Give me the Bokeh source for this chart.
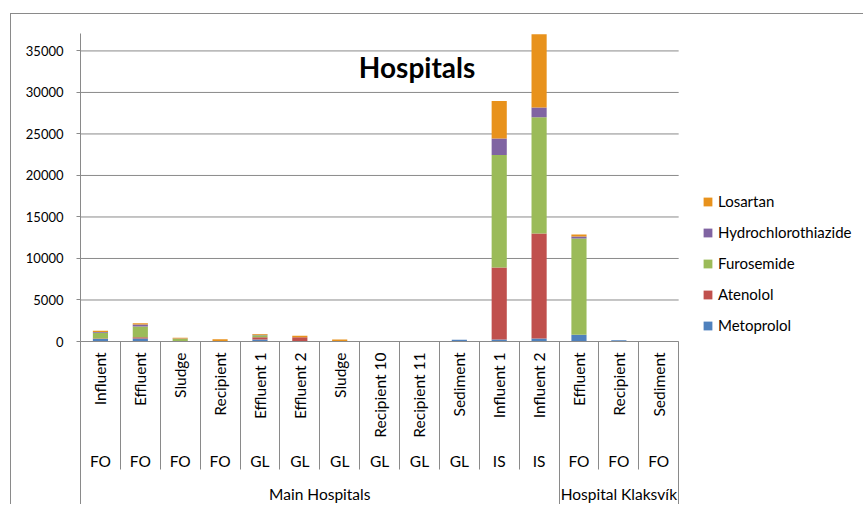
import math
from bokeh.plotting import figure
from bokeh.models import (Range1d, LinearAxis, FixedTicker, Legend, LegendItem,
                          Label, NumeralTickFormatter, ColumnDataSource)
from bokeh.embed import file_html
from bokeh.resources import INLINE

# ---------------- data ----------------
categories = ["Influent", "Effluent", "Sludge", "Recipient", "Effluent 1", "Effluent 2", "Sludge",
              "Recipient 10", "Recipient 11", "Sediment", "Influent 1", "Influent 2",
              "Effluent", "Recipient", "Sediment"]
sites = ["FO", "FO", "FO", "FO", "GL", "GL", "GL", "GL", "GL", "GL", "IS", "IS", "FO", "FO", "FO"]
group_names = ["Main Hospitals", "Hospital Klaksvík"]
group_sizes = [12, 3]

series = ["Metoprolol", "Atenolol", "Furosemide", "Hydrochlorothiazide", "Losartan"]
metoprolol = [300, 350, 30, 30, 250, 0, 0, 0, 0, 200, 250, 350, 800, 150, 0]
atenolol = [50, 150, 0, 0, 250, 500, 0, 0, 0, 0, 8650, 12650, 0, 0, 0]
furosemide = [700, 1300, 300, 0, 250, 0, 50, 0, 0, 0, 13560, 14000, 11600, 0, 0]
hydrochlorothiazide = [100, 250, 30, 0, 50, 0, 0, 0, 0, 0, 2000, 1200, 250, 0, 0]
losartan = [150, 150, 80, 250, 100, 200, 200, 0, 0, 0, 4500, 8800, 250, 0, 0]
colors = ["#4F81BD", "#C0504D", "#9BBB59", "#8064A2", "#E8921C"]
y_ticks = [0, 5000, 10000, 15000, 20000, 25000, 30000, 35000]

FONT = "Lato"
GRAY = "#8a8a8a"
FS = "15.5px"

n = len(categories)
centers = [i + 0.5 for i in range(n)]          # category slot centres on the index scale
bounds = [0]
for s in group_sizes:
    bounds.append(bounds[-1] + s)
gcenters = [(a + b) / 2 for a, b in zip(bounds[:-1], bounds[1:])]

source = ColumnDataSource(dict(x=centers, Metoprolol=metoprolol, Atenolol=atenolol,
                               Furosemide=furosemide, Hydrochlorothiazide=hydrochlorothiazide,
                               Losartan=losartan))

# the frame runs on to the right edge so that the legend sits inside it
p = figure(x_range=Range1d(0, 19.61), y_range=Range1d(0, 37100),
           width=853, height=491, output_backend="svg", toolbar_location=None,
           min_border_left=69, min_border_right=2, min_border_top=19, min_border_bottom=163)
p.margin = (13, 0, 0, 10)
p.styles = {"border-left": f"1px solid {GRAY}", "border-top": f"1px solid {GRAY}"}
p.outline_line_color = None
p.background_fill_color = "white"
p.border_fill_color = "white"
p.xgrid.grid_line_color = None
p.ygrid.grid_line_color = None

# horizontal gridlines across the category area only
p.segment(x0=0, x1=n, y0=y_ticks, y1=y_ticks, line_color=GRAY, line_width=1)

rends = p.vbar_stack(series, x="x", width=0.38, color=colors, source=source, line_color=None)

# y axis
yt = FixedTicker(ticks=y_ticks)
p.yaxis.ticker = yt
p.yaxis.formatter = NumeralTickFormatter(format="0")
p.yaxis.major_label_text_font = FONT
p.yaxis.major_label_text_font_size = "13px"
p.yaxis.major_label_text_color = "#000000"
p.yaxis.axis_line_color = GRAY
p.yaxis.major_tick_line_color = GRAY
p.yaxis.major_tick_out = 4
p.yaxis.major_tick_in = 0
p.yaxis.minor_tick_line_color = None
p.yaxis.major_label_standoff = 13


def plain(axis, size=FS):
    axis.axis_line_color = None
    axis.major_tick_line_color = None
    axis.major_tick_out = 0
    axis.major_tick_in = 0
    axis.minor_tick_out = 0
    axis.minor_tick_in = 0
    axis.minor_tick_line_color = None
    axis.major_label_text_font = FONT
    axis.major_label_text_font_size = size
    axis.major_label_text_color = "#000000"


# x axis A: sample names + cell separators
SEP = 128
ax = p.xaxis[0]
plain(ax)
ax.bounds = (0, n)
ax.ticker = FixedTicker(ticks=centers, minor_ticks=list(range(n + 1)))
ax.major_label_orientation = math.pi / 2
ax.major_label_overrides = {c: name for c, name in zip(centers, categories)}
ax.axis_line_color = GRAY
ax.minor_tick_line_color = GRAY
ax.minor_tick_out = SEP
ax.major_label_standoff = 11 - SEP

# x axis B: site codes
axB = LinearAxis(ticker=FixedTicker(ticks=centers, minor_ticks=[]),
                 major_label_overrides={c: s for c, s in zip(centers, sites)})
plain(axB)
axB.major_label_standoff = 11
p.add_layout(axB, "below")

# x axis D: group names + group separators running to the bottom
SEP2 = 39
axD = LinearAxis(ticker=FixedTicker(ticks=gcenters, minor_ticks=bounds),
                 major_label_overrides={c: g for c, g in zip(gcenters, group_names)})
plain(axD)
axD.minor_tick_line_color = GRAY
axD.minor_tick_out = SEP2
axD.minor_tick_in = 6
axD.major_label_standoff = 12 - SEP2
p.add_layout(axD, "below")

# legend
items = [LegendItem(label=s, renderers=[r]) for s, r in zip(series, rends)][::-1]
legend = Legend(items=items, location=(622, 6), margin=0, padding=0,
                glyph_width=11, glyph_height=11, label_height=20, spacing=11,
                label_standoff=5, border_line_color=None, background_fill_alpha=0,
                label_text_font=FONT, label_text_font_size="15px", label_text_color="#000000")
p.add_layout(legend, "center")

# title
p.add_layout(Label(x=8.44, y=33100, text="Hospitals", text_font=FONT,
                   text_font_style="bold", text_font_size="28px", text_align="center",
                   text_baseline="middle", text_color="#000000"))

open("out.html", "w").write(file_html(p, INLINE))
